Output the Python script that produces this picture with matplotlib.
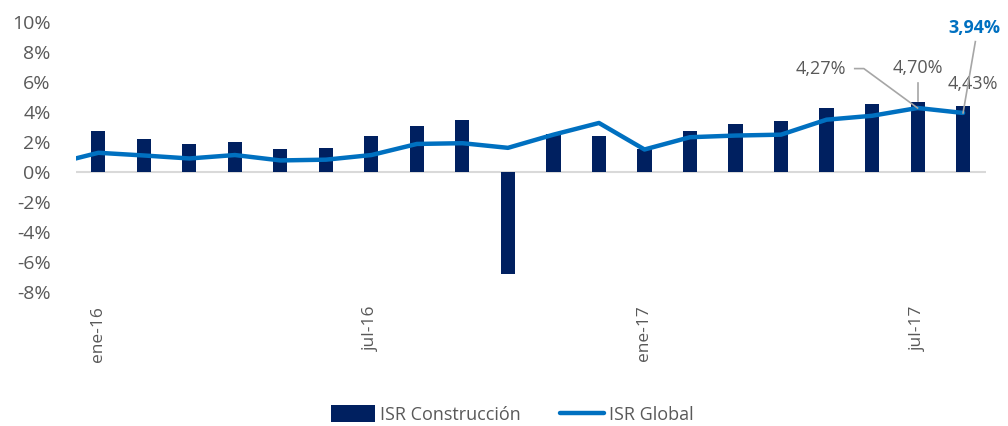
import numpy as np
import matplotlib.pyplot as plt

plt.rcParams['font.family'] = ['Open Sans', 'DejaVu Sans']

# months (dic-15 only feeds the clipped start of the line)
months = ['dic-15', 'ene-16', 'feb-16', 'mar-16', 'abr-16', 'may-16', 'jun-16',
          'jul-16', 'ago-16', 'sep-16', 'oct-16', 'nov-16', 'dic-16',
          'ene-17', 'feb-17', 'mar-17', 'abr-17', 'may-17', 'jun-17',
          'jul-17', 'ago-17']
isr_construccion = [np.nan, 2.76, 2.23, 1.87, 2.0, 1.5, 1.59,
                    2.38, 3.05, 3.49, -6.84, 2.54, 2.38,
                    1.5, 2.76, 3.2, 3.42, 4.3, 4.52,
                    4.70, 4.43]
isr_global = [0.52, 1.28, 1.1, 0.9, 1.13, 0.77, 0.82,
              1.13, 1.87, 1.92, 1.61, 2.49, 3.27,
              1.5, 2.32, 2.43, 2.49, 3.49, 3.75,
              4.27, 3.94]
shown_ticks = ['ene-16', 'jul-16', 'ene-17', 'jul-17']

navy = '#002060'
blue = '#0070C0'
gray = '#595959'
lead = '#a6a6a6'

x = np.arange(len(months))

fig = plt.figure(figsize=(10.08, 4.26), dpi=100)
ax = fig.add_axes([0.075, 0.315, 0.903, 0.633])

ax.axhline(0, color='#d9d9d9', lw=1.5, zorder=1)
bars = ax.bar(x, isr_construccion, width=0.31, color=navy, zorder=2)
line, = ax.plot(x, isr_global, color=blue, lw=3.2, zorder=3, solid_capstyle='round')

ax.set_xlim(0.5, len(months) - 0.5)
ax.set_ylim(-8, 10)
ax.set_yticks(range(-8, 11, 2))
ax.set_yticklabels([f'{v}%' for v in range(-8, 11, 2)], fontsize=14, color=gray)
ax.set_xticks([months.index(m) for m in shown_ticks])
ax.set_xticklabels(shown_ticks, rotation=90, fontsize=12.5, color=gray, va='top')
ax.tick_params(length=0, pad=10)
ax.tick_params(axis='y', pad=18)
for s in ax.spines.values():
    s.set_visible(False)

# data labels with leader lines
i_jul = months.index('jul-17')
i_ago = months.index('ago-17')
g_jul = isr_global[i_jul]
g_ago = isr_global[i_ago]
c_jul = isr_construccion[i_jul]

ax.text(i_jul - 2.13, 6.9, '4,27%', fontsize=13, color=gray, ha='center', va='center')
ax.plot([i_jul - 1.38, i_jul - 1.18, i_jul], [6.9, 6.9, g_jul], color=lead, lw=1.2, zorder=4)

ax.text(i_jul, 6.95, '4,70%', fontsize=13, color=gray, ha='center', va='center')
ax.plot([i_jul, i_jul], [5.95, c_jul + 0.05], color=lead, lw=1.2, zorder=4)

ax.text(i_ago + 0.21, 5.9, '4,43%', fontsize=13, color=gray, ha='center', va='center')

ax.text(i_ago + 0.25, 9.6, '3,94%', fontsize=13, color=blue, fontweight='bold',
        ha='center', va='center')
ax.plot([i_ago + 0.27, i_ago], [8.7, g_ago], color=lead, lw=1.2, zorder=4)

ax.legend([bars, line], ['ISR Construcción', 'ISR Global'],
          loc='center', bbox_to_anchor=(0.48, -0.455), ncol=2, frameon=False,
          prop={'family': ['Liberation Sans Narrow', 'Open Sans'], 'size': 13},
          labelcolor=gray, handlelength=2.4, handleheight=1.0, handletextpad=0.3,
          columnspacing=2.2)

fig.savefig('out.png', dpi=100)
